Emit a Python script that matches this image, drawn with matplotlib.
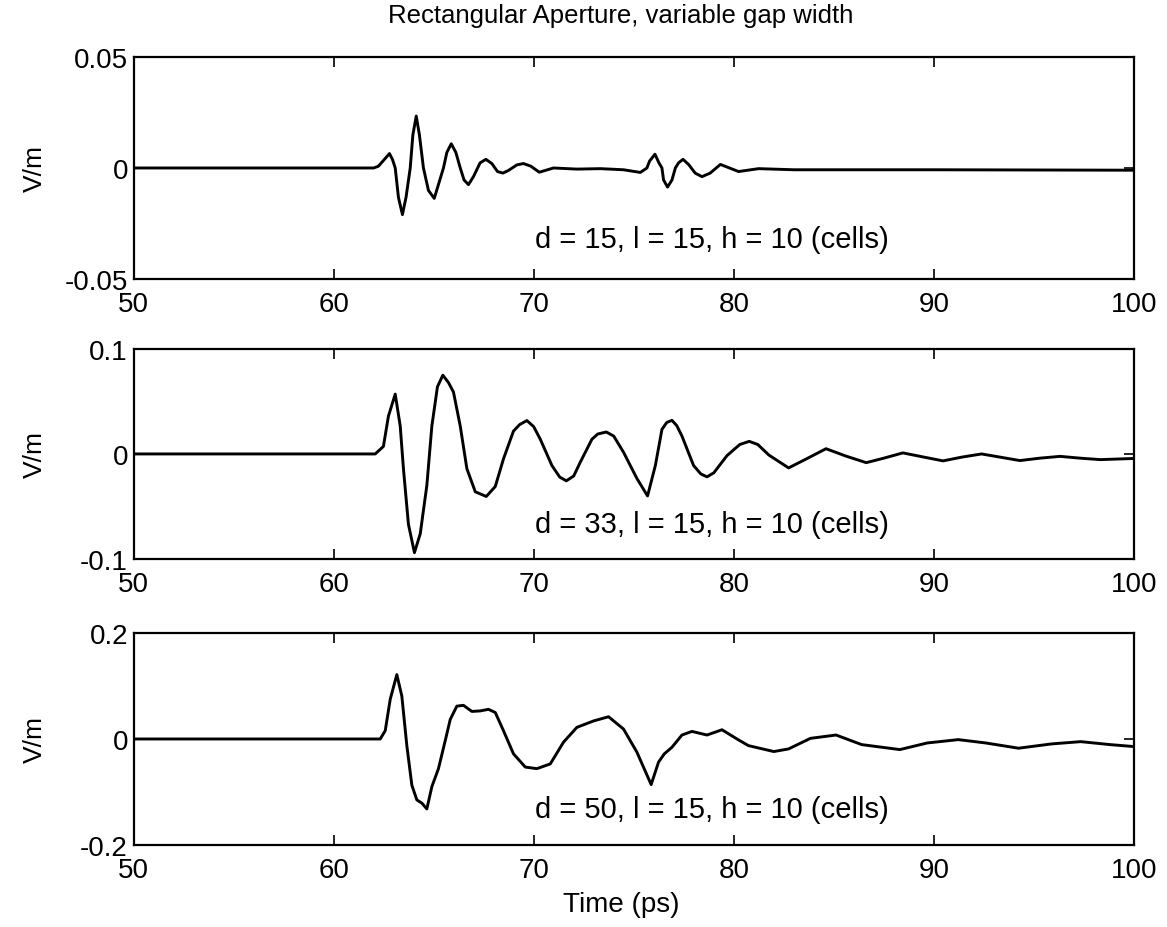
import matplotlib
matplotlib.use("Agg")
import matplotlib.pyplot as plt

plt.rcParams["font.family"] = ["Liberation Sans", "DejaVu Sans"]

# -----------------------------
# Data
# -----------------------------

title = "Rectangular Aperture, variable gap width"
labels = ["d = 15, l = 15, h = 10 (cells)",
          "d = 33, l = 15, h = 10 (cells)",
          "d = 50, l = 15, h = 10 (cells)"]

x_ticks = [50, 60, 70, 80, 90, 100]

# d = 15
t1 = [50.0, 62.0, 62.24, 62.62, 62.79, 62.94, 63.08, 63.24, 63.44, 63.62, 63.83,
      63.96, 64.13, 64.29, 64.49, 64.74, 65.03, 65.49, 65.66, 65.88, 66.11, 66.33,
      66.52, 66.74, 66.99, 67.32, 67.61, 67.91, 68.19, 68.46, 68.74, 69.16, 69.49,
      69.86, 70.28, 70.99, 72.16, 73.33, 74.49, 75.33, 75.66, 75.79, 76.06, 76.26,
      76.41, 76.49, 76.69, 76.91, 77.08, 77.24, 77.46, 77.74, 78.07, 78.41, 78.82,
      79.33, 80.24, 81.24, 83.0, 90.0, 100.0]
v1 = [0.0, 0.0, 0.0008, 0.0047, 0.0065, 0.0039, 0.0, -0.0132, -0.021, -0.0132, 0.0,
      0.0148, 0.0234, 0.0148, 0.0, -0.0101, -0.0137, 0.0, 0.007, 0.0109, 0.007, 0.0,
      -0.0054, -0.0075, -0.0039, 0.0023, 0.0039, 0.002, -0.0016, -0.0023, -0.0011, 0.0014, 0.002,
      0.0008, -0.0019, 0.0, -0.0005, -0.0003, -0.0008, -0.002, 0.0, 0.0031, 0.0062, 0.0023,
      0.0, -0.0054, -0.0086, -0.0054, 0.0, 0.0023, 0.0039, 0.0016, -0.0023, -0.0039, -0.0023,
      0.0016, -0.0016, -0.0003, -0.0008, -0.0008, -0.001]
yticks1 = [-0.05, 0, 0.05]
ylabels1 = ["-0.05", "0", "0.05"]

# d = 33
t2 = [50.0, 62.08, 62.49, 62.74, 63.08, 63.33, 63.49, 63.74, 64.04, 64.33, 64.66,
      64.91, 65.19, 65.46, 65.74, 65.99, 66.33, 66.66, 67.08, 67.63, 68.08, 68.49,
      68.99, 69.3, 69.66, 70.0, 70.33, 70.91, 71.3, 71.63, 72.0, 72.33, 72.91, 73.2,
      73.63, 74.0, 74.49, 75.16, 75.69, 76.08, 76.41, 76.65, 76.91, 77.15, 77.41,
      77.99, 78.35, 78.66, 79.0, 79.66, 80.3, 80.77, 81.2, 81.75, 82.74, 83.7,
      84.61, 85.6, 86.62, 87.5, 88.45, 89.5, 90.46, 91.4, 92.38, 93.3, 94.3, 95.3,
      96.31, 97.3, 98.32, 100.0]
v2 = [0.0, 0.0, 0.0072, 0.036, 0.057, 0.0265, -0.014, -0.067, -0.094, -0.076, -0.03,
      0.0265, 0.064, 0.075, 0.068, 0.059, 0.0265, -0.014, -0.036, -0.0405, -0.031, -0.0047,
      0.0218, 0.028, 0.0318, 0.026, 0.014, -0.011, -0.022, -0.0256, -0.021, -0.0078, 0.014, 0.019,
      0.0209, 0.017, 0.0016, -0.0234, -0.04, -0.011, 0.0234, 0.030, 0.032, 0.027, 0.017,
      -0.011, -0.019, -0.0218, -0.018, -0.0016, 0.009, 0.012, 0.009, -0.001, -0.0133, -0.004,
      0.005, -0.002, -0.0083, -0.004, 0.001, -0.003, -0.0066, -0.003, 0.0, -0.003, -0.0063, -0.004,
      -0.0023, -0.004, -0.0054, -0.0043]
yticks2 = [-0.1, 0, 0.1]
ylabels2 = ["-0.1", "0", "0.1"]

# d = 50
t3 = [50.0, 62.33, 62.58, 62.83, 63.16, 63.41, 63.66, 63.91, 64.16, 64.41, 64.66,
      64.91, 65.24, 65.58, 65.83, 66.16, 66.49, 66.91, 67.33, 67.74, 68.08, 68.49,
      68.99, 69.58, 70.16, 70.83, 71.49, 72.16, 72.99, 73.74, 74.49, 75.16, 75.87,
      76.24, 76.53, 76.91, 77.41, 77.91, 78.66, 79.41, 80.16, 80.73, 82.0, 82.74,
      83.83, 85.11, 86.39, 88.3, 89.67, 91.22, 92.59, 94.23, 95.88, 97.34, 98.8, 100.0]
v3 = [0.0, 0.0, 0.0156, 0.075, 0.1215, 0.081, -0.0125, -0.087, -0.115, -0.121, -0.132,
      -0.09, -0.056, -0.003, 0.037, 0.062, 0.0635, 0.052, 0.053, 0.056, 0.05, 0.0156,
      -0.028, -0.053, -0.056, -0.047, -0.006, 0.022, 0.034, 0.042, 0.0187, -0.025, -0.086,
      -0.0436, -0.028, -0.0156, 0.0075, 0.0143, 0.0075, 0.0174, 0.0, -0.0125, -0.0237, -0.0187,
      0.0012, 0.0075, -0.0106, -0.02, -0.0075, -0.0012, -0.0075, -0.0174, -0.0093, -0.005, -0.0106, -0.0143]
yticks3 = [-0.2, 0, 0.2]
ylabels3 = ["-0.2", "0", "0.2"]

series = [(t1, v1, yticks1, ylabels1), (t2, v2, yticks2, ylabels2), (t3, v3, yticks3, ylabels3)]
label_y = [-0.032, -0.0667, -0.132]

# -----------------------------
# Figure
# -----------------------------

fig = plt.figure(figsize=(11.67, 9.28), dpi=100)

left, width = 0.1144, 0.8573
boxes = [(0.6983, 0.2392), (0.3966, 0.2263), (0.0884, 0.2284)]

for i, (t, v, yt, yl) in enumerate(series):
    ax = fig.add_axes([left, boxes[i][0], width, boxes[i][1]])
    ax.plot(t, v, color="black", linewidth=2.1, solid_joinstyle="round")
    ax.set_xlim(50, 100)
    ax.set_ylim(yt[0], yt[-1])
    ax.set_xticks(x_ticks)
    ax.set_xticklabels([str(x) for x in x_ticks])
    ax.set_yticks(yt)
    ax.set_yticklabels(yl)
    ax.tick_params(direction="in", length=7, width=1.2, top=True, right=True,
                   labelsize=20)
    ax.tick_params(axis="x", pad=9)
    ax.tick_params(axis="y", pad=4)
    for s in ax.spines.values():
        s.set_linewidth(1.6)
    ax.set_ylabel("V/m", fontsize=19)
    ax.yaxis.set_label_coords(-0.0865, 0.5)
    ax.text(70.05, label_y[i], labels[i], fontsize=21, ha="left", va="center")

fig.text(left + width / 2 - 0.011, 1 - 905 / 928, "Time (ps)", fontsize=20,
         ha="center", va="center")
fig.text(left + width / 2 - 0.011, 1 - 16 / 928, title, fontsize=18.5,
         ha="center", va="center")

plt.savefig("out.png", dpi=100)
